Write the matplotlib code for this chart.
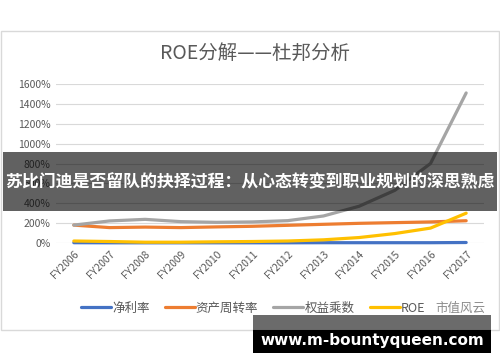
import matplotlib
matplotlib.use('Agg')
import matplotlib.pyplot as plt
from matplotlib.patches import Rectangle
import numpy as np

plt.rcParams['font.family'] = ['Noto Sans CJK SC', 'DejaVu Sans']

# data (percent)
years = ['FY2006', 'FY2007', 'FY2008', 'FY2009', 'FY2010', 'FY2011',
         'FY2012', 'FY2013', 'FY2014', 'FY2015', 'FY2016', 'FY2017']
net_margin = [3, 2, 2, 2, 2, 2, 2, 3, 3, 3, 3, 5]
asset_turnover = [180, 155, 160, 155, 162, 168, 178, 188, 198, 205, 212, 224]
equity_mult = [180, 222, 238, 215, 208, 212, 225, 272, 370, 530, 800, 1510]
roe = [20, 15, 8, 8, 12, 15, 20, 32, 55, 95, 150, 300]

series_names = ['净利率', '资产周转率', '权益乘数', 'ROE']
series_colors = ['#4472C4', '#ED7D31', '#A5A5A5', '#FFC000']
yticks = [0, 200, 400, 600, 800, 1000, 1200, 1400, 1600]

W, H = 500, 362
fig = plt.figure(figsize=(W / 100, H / 100), dpi=100)

# chart frame
fig.patches.append(Rectangle((1 / W, 1 - 330 / H), 498 / W, 299 / H,
                             transform=fig.transFigure, facecolor='white',
                             edgecolor='#D9D9D9', lw=1, zorder=-1))

ax = fig.add_axes([56 / W, 1 - 243 / H, 428 / W, 159 / H])
ax.set_facecolor('none')
x = np.arange(len(years))
for vals, name, c in zip([net_margin, asset_turnover, equity_mult, roe], series_names, series_colors):
    ax.plot(x, vals, color=c, lw=2.3, label=name, solid_capstyle='round', clip_on=False)

ax.set_xlim(-0.5, len(years) - 0.5)
ax.set_ylim(0, 1600)
ax.set_yticks(yticks)
ax.set_yticklabels([f'{v}%' for v in yticks])
ax.set_xticks(x)
ax.set_xticklabels(years, rotation=45, ha='right', rotation_mode='anchor')
ax.grid(axis='y', color='#D9D9D9', lw=0.8)
ax.set_axisbelow(True)
for s in ax.spines.values():
    s.set_visible(False)
ax.tick_params(length=0, colors='#595959', labelsize=7.5, pad=4)

fig.text(255 / W, 1 - 53 / H, 'ROE分解——杜邦分析', ha='center', va='center',
         fontsize=14, color='#595959')

leg = fig.legend(loc='center', bbox_to_anchor=(253 / W, 1 - 308 / H), ncol=4,
                 frameon=False, fontsize=9, handlelength=2.4, columnspacing=1.2,
                 handletextpad=0.1)
for t in leg.get_texts():
    t.set_color('#595959')
fig.text(460 / W, 1 - 308 / H, '市值风云', ha='center', va='center',
         fontsize=9, color='#8c8c8c', zorder=4,
         bbox=dict(facecolor='white', edgecolor='none', pad=1))

# banner overlay
fig.patches.append(Rectangle((3 / W, 1 - 211 / H), 494 / W, 59 / H,
                             transform=fig.transFigure, facecolor='black',
                             alpha=0.62, edgecolor='none', zorder=5))
fig.text(250 / W, 1 - 182 / H, '苏比门迪是否留队的抉择过程：从心态转变到职业规划的深思熟虑',
         ha='center', va='center', fontsize=12.2, fontweight='bold',
         color='white', zorder=6)

# site watermark
fig.patches.append(Rectangle((253 / W, 1 - 330 / H), 238 / W, 15 / H,
                             transform=fig.transFigure, facecolor='black',
                             alpha=0.58, edgecolor='none', zorder=5))
fig.patches.append(Rectangle((253 / W, 1 - 353 / H), 238 / W, 23 / H,
                             transform=fig.transFigure, facecolor='black',
                             edgecolor='none', zorder=5))
fig.text(372 / W, 1 - 341 / H, 'www.m-bountyqueen.com', ha='center', va='center',
         fontsize=11, fontweight='bold', color='white', family='DejaVu Sans', zorder=6)

fig.savefig('out.png', dpi=100)
